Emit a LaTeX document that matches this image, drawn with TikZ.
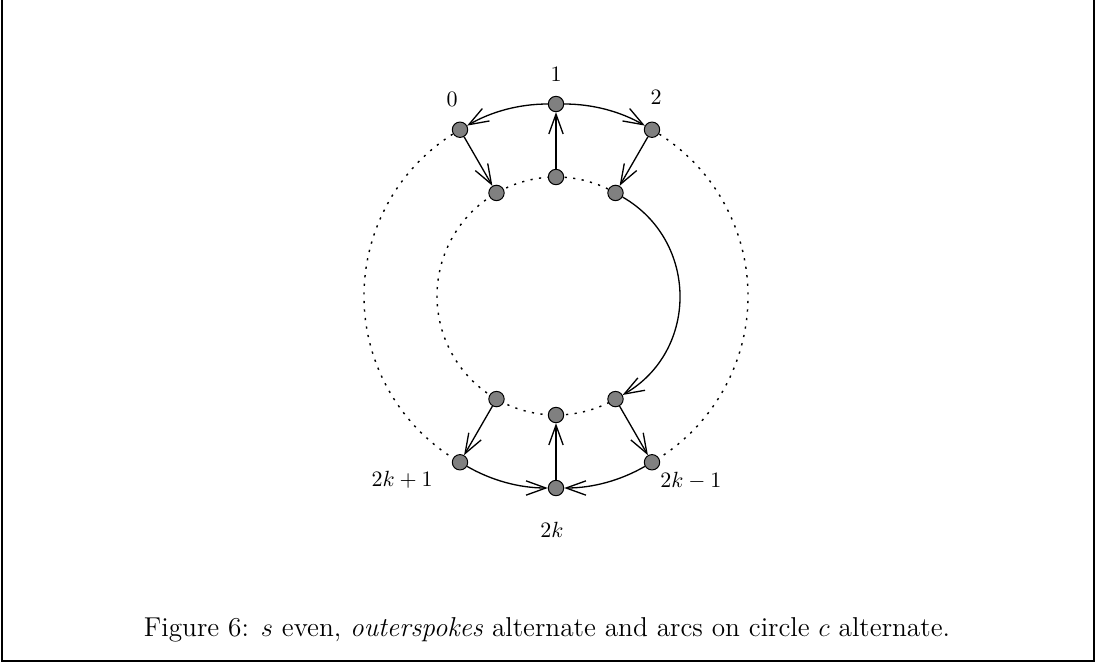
\documentclass[tikz,border=0pt]{standalone}
\usetikzlibrary{arrows.meta}
\begin{document}
\begin{tikzpicture}[x=0.4545pt,y=-0.4545pt,
  vtx/.style={circle,draw,fill=gray,line width=0.45pt,minimum size=7pt,inner sep=0pt},
  edge/.style={line width=0.6pt,-{Straight Barb[length=9pt,width=6.5pt]}},
  dots/.style={line width=0.65pt,dash pattern=on 1pt off 2.9pt},
  lab/.style={font=\fontsize{10}{12}\selectfont,inner sep=0pt},
  framel/.style={line width=1.2pt}]
\useasboundingbox (0,0) rectangle (1095,663);
\draw[framel] (2,-5) -- (2,661) -- (1094,661) -- (1094,-5);
\begin{scope}[shift={(556,296)},y=0.4545pt]
  % dotted parts of the circles
  \draw[dots] (60:192) arc[start angle=60,end angle=-60,radius=192];
  \draw[dots] (120:192) arc[start angle=120,end angle=240,radius=192];
  \draw[dots] (60:119) arc[start angle=60,end angle=300,radius=119];
  % vertices
  \node[vtx] (o0) at (120:192) {};
  \node[vtx] (o1) at (90:192) {};
  \node[vtx] (o2) at (60:192) {};
  \node[vtx] (o240) at (240:192) {};
  \node[vtx] (o270) at (270:192) {};
  \node[vtx] (o300) at (300:192) {};
  \node[vtx] (i120) at (120:119) {};
  \node[vtx] (i90) at (90:119) {};
  \node[vtx] (i60) at (60:119) {};
  \node[vtx] (i240) at (240:119) {};
  \node[vtx] (i270) at (270:119) {};
  \node[vtx] (i300) at (300:119) {};
\end{scope}
% arcs on the outer circle
\draw[edge] (o1) to[bend right=15,looseness=0.87] (o0);
\draw[edge] (o1) to[bend left=15,looseness=0.87] (o2);
\draw[edge] (o240) to[bend right=15,looseness=0.87] (o270);
\draw[edge] (o300) to[bend left=15,looseness=0.87] (o270);
% arc on the inner circle
\draw[edge] (i60) to[bend left=60,looseness=1.14] (i300);
% spokes
\draw[edge] (o0) -- (i120);
\draw[edge] (i90) -- (o1);
\draw[edge] (o2) -- (i60);
\draw[edge] (i240) -- (o240);
\draw[edge] (o270) -- (i270);
\draw[edge] (i300) -- (o300);
% labels
\node[lab] (l0) at (452,99) {$0$};
\node[lab] (l1) at (556,74) {$1$};
\node[lab] (l2) at (656,97) {$2$};
\node[lab,anchor=east] (l2k1) at (433,480) {$2k+1$};
\node[lab,anchor=west] (l2km1) at (660,481) {$2k-1$};
\node[lab] (l2k) at (552,530) {$2k$};
% caption
\node[font=\fontsize{12.4}{14.5}\selectfont,anchor=base,inner sep=0pt] (cap) at (547,636)
  {Figure 6: $s$ even, \emph{outerspokes} alternate and arcs on circle $c$ alternate.};
\end{tikzpicture}
\end{document}
